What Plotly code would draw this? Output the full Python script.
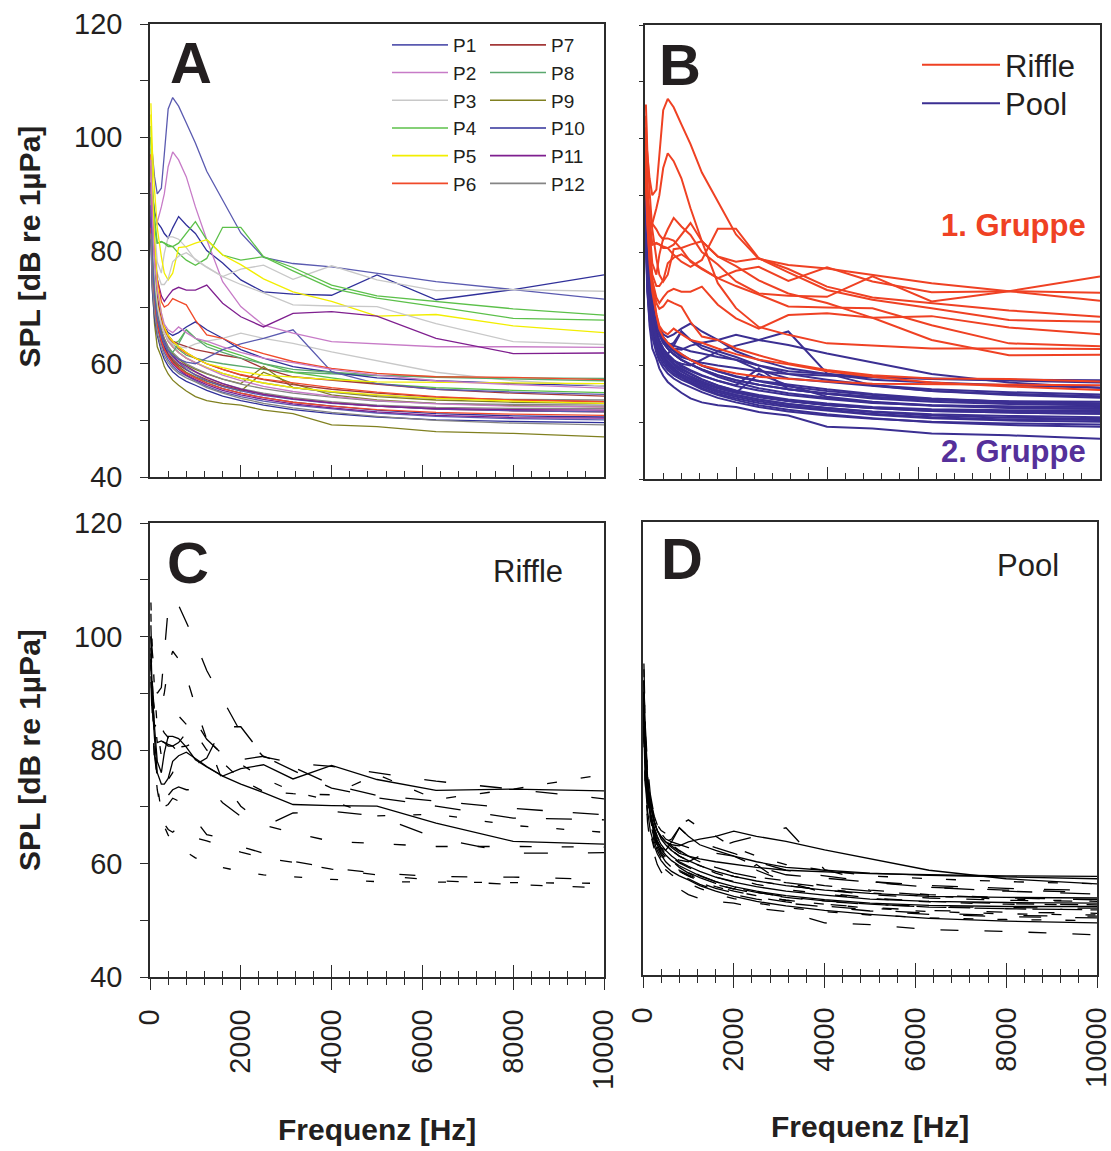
import plotly.graph_objects as go

# ---------------- data ----------------
FREQ = [20, 50, 100, 160, 250, 315, 400, 500, 630, 800, 1000, 1250, 1600,
        2000, 2500, 3150, 4000, 5000, 6300, 8000, 10000]

STATIONS = ["P1", "P2", "P3", "P4", "P5", "P6", "P7", "P8", "P9", "P10", "P11", "P12"]
STATION_COLORS = ["#5a5ab0", "#c77bc7", "#c8c8c8", "#5cc04a", "#f2ee00", "#f04a2a",
                  "#a33838", "#5aa86e", "#808020", "#30309a", "#7f1f8f", "#858585"]
STATION_DASH = ["22px,34px", "12px,30px", "solid", "26px,30px", "8px,28px", "16px,36px",
                "30px,28px", "solid", "18px,26px", "10px,24px", "24px,40px", "solid"]

# Riffle measurements (1. Gruppe)
R01 = [100, 97, 93, 90, 91, 97, 105, 107, 105.5, 102.5, 99, 94, 89, 83.1, 78.8, 77.7, 77.1, 76, 74.5, 73.1, 71.4]
R02 = [95, 90, 87, 85, 84, 83, 82.2, 84, 86, 84.5, 83, 80, 77.8, 74.8, 72.7, 72.3, 72.1, 75.7, 71.3, 73.1, 75.7]
R03 = [93, 88, 84, 85, 87.7, 90, 94.8, 97.4, 96, 93, 87.7, 81.9, 74.5, 70.1, 66.8, 65.4, 63.9, 63.5, 63.0, 63.0, 62.9]
R04 = [98, 90, 84, 78, 76, 79.5, 82.4, 82.4, 82.0, 80.5, 78.3, 77, 75.4, 76.7, 77.4, 74.9, 77.3, 74.8, 72.9, 73.1, 72.8]
R05 = [100, 90, 84, 81.3, 81.5, 81.3, 80.7, 80.7, 81.3, 83, 85.1, 81.9, 79.2, 78.3, 78.9, 77.0, 73.9, 72, 71, 69.7, 68.6]
R06 = [102, 92, 86, 81.3, 81.6, 81.3, 81.0, 80.7, 79.5, 78.3, 77.4, 78.6, 84.1, 84.1, 78.9, 76.4, 73.3, 71.6, 70.1, 68.0, 67.7]
R07 = [106, 98, 90.7, 84, 78.9, 76, 74.8, 76, 80.5, 80.7, 81.3, 81.9, 79.2, 77.5, 75, 72.7, 71.0, 68.4, 68.7, 66.7, 65.5]
R08 = [96, 88, 82, 76, 74, 74, 75, 78, 79, 79.6, 78.5, 77.1, 75.4, 74, 72.5, 70.4, 70.2, 70.1, 67.1, 63.9, 63.4]
R09 = [92, 85, 79, 75, 72, 71, 72, 73, 73.5, 73, 73, 73.9, 70.7, 68.3, 66.5, 68.9, 69.2, 68.4, 64.5, 61.8, 61.9]
R10 = [97, 88, 80, 75, 71, 70, 70.4, 71.5, 71, 70.4, 67.7, 65.1, 64.5, 63.0, 61.8, 60.4, 59.2, 58.3, 57.7, 57.6, 57.2]
R11 = [104, 92, 82, 74, 69, 66.5, 65, 64, 63, 62, 61, 60, 59.3, 58.6, 58, 57.6, 57.2, 56.8, 56.7, 56.6, 56.5]
R12 = [96, 86, 78, 73, 69, 67, 66, 65.5, 66.5, 65.5, 64.5, 64, 63, 62, 61, 60.2, 59, 58, 57, 56.3, 55.7]
RIFFLE = [R01, R02, R03, R04, R05, R06, R07, R08, R09, R10, R11, R12]
RIFFLE_STATION = ["P1", "P10", "P2", "P3", "P4", "P4", "P5", "P3", "P11", "P6", "P5", "P2"]

# Pool measurements (2. Gruppe)
Q01 = [88, 80, 74, 70, 67, 65.5, 64.5, 63.5, 62.5, 61.5, 61, 60.5, 60, 59.5, 59, 58.5, 58.2, 57.9, 57.7, 57.5, 57.4]
Q02 = [90, 82, 76, 71, 68, 66.5, 65.5, 65, 65.5, 66.5, 67.4, 66, 64.5, 62.5, 61, 59.5, 58.5, 57.5, 57, 56.5, 56.1]
Q03 = [92, 83, 76, 71, 67.5, 66, 64.5, 63.5, 64, 66, 64.5, 63.5, 62.5, 61.5, 60, 58.5, 57.5, 56.5, 55.8, 55.3, 54.9]
Q04 = [95, 84, 77, 72, 68, 66.5, 65, 64, 63.5, 63, 62.5, 62.1, 61.5, 61, 59.2, 57.7, 57.1, 56.3, 55.5, 54.8, 54.3]
Q05 = [90, 80, 74, 69.5, 66, 64.5, 63, 61.8, 60.8, 59.8, 59, 58.2, 57.3, 56.5, 59.5, 55.8, 55, 54.2, 53.6, 53.2, 53.0]
Q06 = [88, 78, 72, 68, 64.5, 63, 61.6, 60.5, 59.5, 58.5, 57.7, 56.9, 56, 55.2, 58.5, 56.5, 54.5, 53.6, 53, 52.6, 52.4]
Q07 = [84, 74, 67, 63, 61.2, 59.5, 58.2, 57.1, 56.2, 55.2, 54.2, 53.5, 53, 52.7, 51.8, 51.2, 49.2, 48.9, 48, 47.7, 47.1]
Q08 = [90, 80, 74, 70.5, 67, 65.5, 64, 63, 62, 61, 60.2, 59.3, 58.3, 57.4, 56.6, 55.8, 55, 54.4, 53.9, 53.7, 53.6]
Q09 = [88, 79, 72.5, 69, 65.8, 64.3, 63, 62, 61, 60, 59.2, 58.3, 57.3, 56.4, 55.6, 54.8, 54.1, 53.4, 53, 52.8, 52.7]
Q10 = [86, 77, 71.5, 68, 65, 63.5, 62.2, 61.2, 60.2, 59.3, 58.5, 57.5, 56.5, 55.6, 54.8, 54, 53.3, 52.7, 52.3, 52.1, 52.1]
Q11 = [92, 81, 75, 71, 68, 66.5, 65, 64, 63, 62, 61, 60, 59, 58, 57.2, 56.3, 55.5, 54.8, 54.1, 53.6, 53.3]
Q12 = [86, 77, 71, 67.5, 64.5, 63, 61.8, 60.8, 59.8, 58.9, 58.1, 57.2, 56.2, 55.4, 54.6, 53.8, 53.1, 52.5, 52, 51.7, 51.5]
Q13 = [90, 80, 74, 70.5, 67.5, 66, 64.8, 63.8, 62.8, 61.8, 61, 60, 59, 58.1, 57.3, 56.6, 55.8, 55, 54.2, 53.6, 53.3]
Q14 = [94, 82, 75, 70.5, 67, 65.5, 64, 63, 62, 61, 60.2, 59.3, 58.3, 57.4, 56.6, 55.8, 55.1, 54.5, 53.9, 53.4, 53.0]
Q15 = [88, 78, 72.5, 68.5, 65.5, 64, 62.5, 61.3, 60.2, 59, 58, 57, 56, 55.2, 54.4, 53.7, 53, 52.5, 52, 51.7, 51.5]
Q16 = [86, 76, 71, 67.5, 64.5, 63, 61.5, 60.3, 59.2, 58.3, 57.5, 56.6, 55.6, 54.8, 54, 53.2, 52.5, 51.8, 51.2, 50.8, 50.6]
Q17 = [84, 75, 70, 66.5, 63.5, 62, 60.7, 59.6, 58.6, 57.8, 57, 56, 55, 54.2, 53.4, 52.7, 52, 51.3, 50.7, 50.3, 50.1]
Q18 = [88, 78, 72, 68.5, 65.2, 63.7, 62.4, 61.4, 60.4, 59.5, 58.6, 57.6, 56.5, 55.5, 54.6, 53.8, 53.1, 52.5, 52.1, 51.9, 51.8]
Q19 = [85, 76, 70.5, 67, 64, 62.5, 61.2, 60, 59, 58, 57.2, 56.3, 55.3, 54.5, 53.7, 52.9, 52.2, 51.5, 50.9, 50.5, 50.4]
Q20 = [90, 80, 74, 70, 67, 65.5, 64, 63, 62, 61, 60.2, 59.2, 58, 57, 56, 55.1, 54.3, 53.5, 52.9, 52.5, 52.4]
Q21 = [92, 82, 75, 70, 67, 65.5, 64.3, 63.5, 63, 62.8, 63.5, 64, 64.5, 65.4, 64.5, 63.6, 62.1, 60.5, 58.5, 57, 56.1]
Q22 = [90, 80, 73, 68.5, 65, 63.5, 62.5, 62, 63.5, 66, 64.5, 63, 62, 61, 60, 59, 58.5, 58, 57.6, 57.3, 57.0]
Q23 = [84, 76, 70.5, 67, 64, 62.6, 61.3, 60.2, 59.2, 58.3, 57.5, 56.6, 55.6, 54.8, 54, 53.2, 52.5, 51.9, 51.4, 51.1, 50.9]
Q24 = [82, 73, 68, 65, 62.2, 60.8, 59.6, 58.6, 57.7, 56.9, 56.2, 55.3, 54.3, 53.5, 52.7, 51.9, 51.2, 50.6, 50.1, 49.8, 49.6]
Q25 = [88, 79, 72, 68, 65, 63.5, 62.3, 61.5, 60.8, 60.3, 60, 61, 62.5, 63.5, 64.5, 66, 58.6, 56.5, 55.5, 55, 54.6]
Q26 = [83, 74, 69, 65.5, 62.8, 61.4, 60.2, 59.2, 58.3, 57.5, 56.8, 55.8, 54.8, 53.9, 53, 52.2, 51.4, 50.7, 50, 49.5, 49.2]
POOL = [Q01, Q02, Q03, Q04, Q05, Q06, Q07, Q08, Q09, Q10, Q11, Q12, Q13,
        Q14, Q15, Q16, Q17, Q18, Q19, Q20, Q21, Q22, Q23, Q24, Q25, Q26]
POOL_STATION = ["P8", "P10", "P4", "P7", "P9", "P9", "P9", "P12", "P12", "P12", "P7", "P7", "P6",
                "P5", "P1", "P10", "P1", "P11", "P11", "P2", "P3", "P8", "P6", "P10", "P1", "P12"]

GROUP_LABELS = ["Riffle", "Pool"]
GROUP_COLORS = ["#ef4123", "#3b2f92"]
Y_TITLE = "SPL [dB re 1µPa]"
X_TITLE = "Frequenz [Hz]"

# ---------------- figure ----------------
FONT = "Liberation Sans, Arial, Helvetica, sans-serif"
TXT = "#231f20"
AXC = "#2b2b2b"
W, H = 1111, 1151

fig = go.Figure()


def col(st):
    return STATION_COLORS[STATIONS.index(st)]


def dsh(st):
    return STATION_DASH[STATIONS.index(st)]


# Panel A: colored by station
for vals, st in list(zip(POOL, POOL_STATION)) + list(zip(RIFFLE, RIFFLE_STATION)):
    fig.add_trace(go.Scatter(x=FREQ, y=vals, mode="lines", xaxis="x", yaxis="y",
                             line=dict(color=col(st), width=1.3), showlegend=False,
                             hoverinfo="skip"))
for i, st in enumerate(STATIONS):
    fig.add_trace(go.Scatter(x=[None], y=[None], mode="lines", xaxis="x", yaxis="y",
                             name=st, line=dict(color=col(st), width=1.6),
                             legend="legend" if i < 6 else "legend3"))

# Panel B: colored by group
for vals in POOL:
    fig.add_trace(go.Scatter(x=FREQ, y=vals, mode="lines", xaxis="x2", yaxis="y2",
                             line=dict(color=GROUP_COLORS[1], width=2), showlegend=False,
                             hoverinfo="skip"))
for vals in RIFFLE:
    fig.add_trace(go.Scatter(x=FREQ, y=vals, mode="lines", xaxis="x2", yaxis="y2",
                             line=dict(color=GROUP_COLORS[0], width=2), showlegend=False,
                             hoverinfo="skip"))
for lab, c, lg in zip(GROUP_LABELS, GROUP_COLORS, ["legend2", "legend4"]):
    fig.add_trace(go.Scatter(x=[None], y=[None], mode="lines", xaxis="x2", yaxis="y2",
                             name=lab, line=dict(color=c, width=2), legend=lg))

# Panel C: riffle, black with dash styles
for vals, st in zip(RIFFLE, RIFFLE_STATION):
    fig.add_trace(go.Scatter(x=FREQ, y=vals, mode="lines", xaxis="x3", yaxis="y3",
                             line=dict(color="black", width=1.3, dash=dsh(st)),
                             showlegend=False, hoverinfo="skip"))
# Panel D: pool
for vals, st in zip(POOL, POOL_STATION):
    fig.add_trace(go.Scatter(x=FREQ, y=vals, mode="lines", xaxis="x4", yaxis="y4",
                             line=dict(color="black", width=1.3, dash=dsh(st)),
                             showlegend=False, hoverinfo="skip"))
# helper traces for overlay tick axes
fig.add_trace(go.Scatter(x=[None], y=[None], xaxis="x5", yaxis="y3", showlegend=False))
fig.add_trace(go.Scatter(x=[None], y=[None], xaxis="x6", yaxis="y4", showlegend=False))


def px_x(p):
    return p / W


def px_y(p):
    return 1 - p / H


dom_xA = [px_x(150), px_x(604)]
dom_xB = [px_x(645), px_x(1100)]
dom_xD = [px_x(643), px_x(1097)]
dom_yA = [px_y(477), px_y(24)]
dom_yB = [px_y(479), px_y(25)]
dom_yC = [px_y(977), px_y(523)]
dom_yD = [px_y(975), px_y(522)]

xbase = dict(range=[0, 10000], showgrid=False, zeroline=False, showline=True,
             linecolor=AXC, linewidth=1.5, mirror=True, tickcolor=AXC, tickwidth=1.3,
             tick0=0, dtick=2000, automargin=False, tickformat="d")
top_x = dict(xbase, ticks="inside", ticklen=12, showticklabels=False,
             minor=dict(dtick=400, ticks="inside", ticklen=6, tickcolor=AXC, tickwidth=1.3))
bot_x = dict(xbase, ticks="outside", ticklen=11, tickangle=-90, ticklabelstandoff=8,
             ticklabeloverflow="allow",
             tickfont=dict(family=FONT, size=29, color=TXT),
             minor=dict(dtick=400, ticks="outside", ticklen=6, tickcolor=AXC, tickwidth=1.3))
ovl_x = dict(range=[0, 10000], showgrid=False, zeroline=False, showline=False,
             ticks="inside", ticklen=12, tickcolor=AXC, tickwidth=1.3, tick0=0, dtick=2000,
             showticklabels=False, automargin=False,
             minor=dict(dtick=400, ticks="inside", ticklen=6, tickcolor=AXC, tickwidth=1.3))
ybase = dict(range=[40, 120], showgrid=False, zeroline=False, showline=True,
             linecolor=AXC, linewidth=1.5, mirror=True, tickcolor=AXC, tickwidth=1.3,
             tick0=40, dtick=20, automargin=False)
lab_y = dict(ybase, ticks="outside", ticklen=8, ticklabelstandoff=12,
             tickfont=dict(family=FONT, size=29, color=TXT),
             minor=dict(dtick=10, ticks="outside", ticklen=8, tickcolor=AXC, tickwidth=1.3))

fig.update_layout(
    width=W, height=H, margin=dict(l=0, r=0, t=0, b=0, autoexpand=False),
    paper_bgcolor="white", plot_bgcolor="white",
    font=dict(family=FONT, color=TXT),
    xaxis=dict(top_x, domain=dom_xA, anchor="y"),
    yaxis=dict(lab_y, domain=dom_yA, anchor="x"),
    xaxis2=dict(top_x, domain=dom_xB, anchor="y2"),
    yaxis2=dict(ybase, domain=dom_yB, anchor="x2", ticks="outside", ticklen=4,
                showticklabels=False,
                minor=dict(dtick=10, ticks="outside", ticklen=4, tickcolor=AXC, tickwidth=1.3)),
    xaxis3=dict(bot_x, domain=dom_xA, anchor="y3"),
    yaxis3=dict(lab_y, domain=dom_yC, anchor="x3"),
    xaxis4=dict(bot_x, domain=dom_xD, anchor="y4"),
    yaxis4=dict(ybase, domain=dom_yD, anchor="x4", ticks="", showticklabels=False),
    xaxis5=dict(ovl_x, overlaying="x3", anchor="y3"),
    xaxis6=dict(ovl_x, overlaying="x4", anchor="y4"),
    legend=dict(x=px_x(387), y=px_y(26), xanchor="left", yanchor="top", itemwidth=56,
                font=dict(family=FONT, size=19, color=TXT), bgcolor="rgba(0,0,0,0)",
                tracegroupgap=0),
    legend3=dict(x=px_x(485), y=px_y(26), xanchor="left", yanchor="top", itemwidth=56,
                 font=dict(family=FONT, size=19, color=TXT), bgcolor="rgba(0,0,0,0)",
                 tracegroupgap=0),
    legend2=dict(x=px_x(917), y=px_y(65), xanchor="left", yanchor="middle", itemwidth=78,
                 font=dict(family=FONT, size=31, color=TXT), bgcolor="rgba(0,0,0,0)"),
    legend4=dict(x=px_x(917), y=px_y(103.5), xanchor="left", yanchor="middle", itemwidth=78,
                 font=dict(family=FONT, size=31, color=TXT), bgcolor="rgba(0,0,0,0)"),
)

ann = []
for letter, (ax, ay) in zip("ABCD", [(191, 62.5), (680, 65), (188, 562.5), (682, 558.5)]):
    ann.append(dict(text="<b>%s</b>" % letter, x=px_x(ax), y=px_y(ay), xref="paper", yref="paper",
                    showarrow=False, xanchor="center", yanchor="middle",
                    font=dict(family=FONT, size=58, color=TXT)))
ann.append(dict(text=GROUP_LABELS[0], x=px_x(528), y=px_y(571), xref="paper", yref="paper",
                showarrow=False, xanchor="center", yanchor="middle",
                font=dict(family=FONT, size=31, color=TXT)))
ann.append(dict(text=GROUP_LABELS[1], x=px_x(1028), y=px_y(565), xref="paper", yref="paper",
                showarrow=False, xanchor="center", yanchor="middle",
                font=dict(family=FONT, size=31, color=TXT)))
ann.append(dict(text="<b>1. Gruppe</b>", x=px_x(1088), y=px_y(226), xref="paper", yref="paper",
                showarrow=False, xanchor="right", yanchor="middle",
                font=dict(family=FONT, size=31, color=GROUP_COLORS[0])))
ann.append(dict(text="<b>2. Gruppe</b>", x=px_x(1088), y=px_y(451), xref="paper", yref="paper",
                showarrow=False, xanchor="right", yanchor="middle",
                font=dict(family=FONT, size=31, color="#55309a")))
for yy in (246.5, 750):
    ann.append(dict(text="<b>%s</b>" % Y_TITLE, x=px_x(29), y=px_y(yy), xref="paper", yref="paper",
                    showarrow=False, xanchor="center", yanchor="middle", textangle=-90,
                    font=dict(family=FONT, size=30, color=TXT)))
for xx, yy in ((377, 1129), (870, 1126)):
    ann.append(dict(text="<b>%s</b>" % X_TITLE, x=px_x(xx), y=px_y(yy), xref="paper", yref="paper",
                    showarrow=False, xanchor="center", yanchor="middle",
                    font=dict(family=FONT, size=30, color=TXT)))
fig.update_layout(annotations=ann)

fig.write_html("out.html")
